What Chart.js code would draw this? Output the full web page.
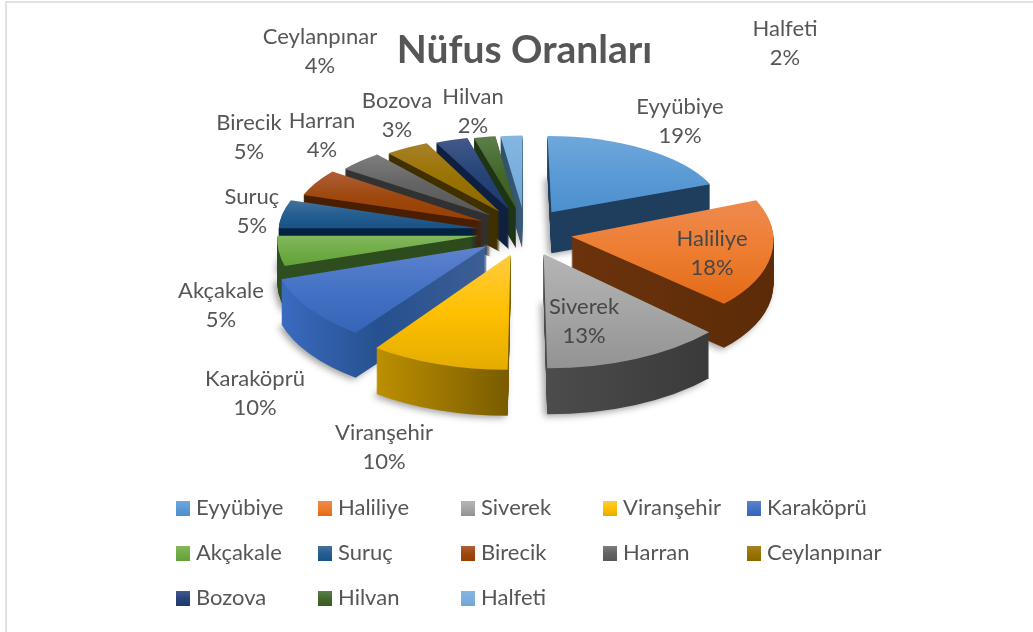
<!DOCTYPE html>
<html lang="tr">
<head>
<meta charset="utf-8">
<title>Nüfus Oranları</title>
<script src="https://cdn.jsdelivr.net/npm/chart.js@4"></script>
<style>
html,body{margin:0;padding:0;background:#fff}
#frame{position:absolute;left:5px;top:1px;right:0;bottom:0;border-left:2px solid #e2e2e2;border-top:2px solid #e2e2e2;pointer-events:none}
canvas{position:absolute;left:0;top:0}
</style>
</head>
<body>
<canvas id="c" width="1033" height="632"></canvas>
<div id="frame"></div>
<script>
// ---- data ----
const chartTitle = 'Nüfus Oranları';
const categories = ['Eyyübiye','Haliliye','Siverek','Viranşehir','Karaköprü','Akçakale','Suruç','Birecik','Harran','Ceylanpınar','Bozova','Hilvan','Halfeti'];
const percentages = [19,18,13,10,10,5,5,5,4,4,3,2,2];

// ---- styles ----
const topColors = [
 ['#6FA7DB','#5B9BD5','#4C8FCE'],['#EE8A4E','#ED7D31','#E36A16'],['#B5B5B5','#A5A5A5','#939393'],
 ['#FFCB40','#FFC000','#E3AC00'],['#5F83CE','#4472C4','#3565B8'],['#84B75E','#70AD47','#62A038'],
 ['#44739F','#255E91','#1A5286'],['#AE6038','#9E480E','#973F04'],['#7E7E7E','#636363','#585858'],
 ['#A88028','#997300','#8B6700'],['#43598A','#264478','#1C3A6E'],['#5D7E4C','#43682B','#3A5C23'],
 ['#84B6E2','#7CAFDD','#6FA5D6']];
const sideColors = [
 ['#1F3E5E','#1F3E5E'],['#6B330C','#5C2B08'],['#4C4C4C','#3A3A3A'],
 ['#BD9000','#7A5C00'],['#3A6BC0','#26508F','#3D5F95'],['#2F4F20','#2C4A1C'],
 ['#03223F','#03223F'],['#4A1E00','#4A1E00'],['#333333','#303030'],
 ['#403000','#403000'],['#0F1F3F','#0F1F3F'],['#1F3315','#1F3315'],['#2F4F6F','#3A5A78']];
const textColor = '#565656';
const fontFamily = 'Lato, "Open Sans", sans-serif';
const labelFont = '400 22px ' + fontFamily;
const labelCenters = [[680,107],[712,239],[584,307],[384,433],[255,379],[221,291],[252,197],[249,123],[322,121],[320,37],[397,101],[473,97],[785,29]];
const labelLineGap = 29;
const legendCols = [176,318,461,603,747];
const legendRows = [508,553,598];

// ---- 3D look ----
const pivot = {x:525, y:232};
const explode = 47, squash = 0.509, baseRadius = 226;

function linGrad(ctx,x0,y0,x1,y1,stops){
  const g = ctx.createLinearGradient(x0,y0,x1,y1);
  stops.forEach((s,i)=>g.addColorStop(stops.length>1?i/(stops.length-1):0,s));
  return g;
}
function bbox(arc){
  const R = arc.outerRadius; let x0=arc.x,x1=arc.x,y0=arc.y,y1=arc.y;
  for(let i=0;i<=24;i++){
    const a = arc.startAngle+(arc.endAngle-arc.startAngle)*i/24;
    const px=arc.x+R*Math.cos(a), py=arc.y+R*Math.sin(a);
    x0=Math.min(x0,px);x1=Math.max(x1,px);y0=Math.min(y0,py);y1=Math.max(y1,py);
  }
  return {x0,x1,y0,y1};
}
function paint(arc,ctx,fill){
  const p = Object.create(arc);
  p.options = {backgroundColor:fill,borderColor:'rgba(0,0,0,0)',borderWidth:0,borderRadius:0,offset:0,spacing:0,circular:true,borderAlign:'center',borderJoinStyle:'round'};
  p.draw(ctx);
}
const pie3d = {
  id:'pie3d',
  beforeDatasetsDraw(chart){
    const ctx = chart.ctx;
    const arcs = chart.getDatasetMeta(0).data;
    const order = arcs.map((a,i)=>i).sort((a,b)=>{
      const ma=(arcs[a].startAngle+arcs[a].endAngle)/2, mb=(arcs[b].startAngle+arcs[b].endAngle)/2;
      return Math.sin(ma)-Math.sin(mb);
    });
    order.forEach(i=>{
      const arc = arcs[i];
      const mid = (arc.startAngle+arc.endAngle)/2;
      const c = -Math.sin(mid), s = Math.cos(mid);
      const sx = 0.87-0.13*c+((s<0&&c>0)?0.035:0), sy = (0.82-0.19*c)*squash;
      const ox = pivot.x+explode*s, oy = pivot.y-explode*c*squash;
      const depth = Math.round(43-3*c);
      const shear = 0.04*s;
      const b = bbox(arc);
      const place = dy=>{
        ctx.translate(ox,oy+dy); ctx.scale(sx,sy); ctx.transform(1,0,shear,1,0,0); ctx.translate(-arc.x,-arc.y);
      };
      const sideFill = linGrad(ctx,b.x0,0,b.x1,0,sideColors[i]);
      for(let d=depth;d>=1;d--){
        ctx.save();
        if(d===depth){
          ctx.shadowColor='rgba(0,0,0,0.38)';ctx.shadowBlur=7;ctx.shadowOffsetX=-3;ctx.shadowOffsetY=2;
        }
        place(d);
        paint(arc,ctx,sideFill);
        ctx.restore();
      }
      ctx.save();
      place(0);
      paint(arc,ctx,linGrad(ctx,0,b.y0,0,b.y1,topColors[i]));
      ctx.restore();
    });
    return false;
  },
  afterDraw(chart){
    const ctx = chart.ctx;
    ctx.save();
    ctx.fillStyle = textColor;
    ctx.font = labelFont;
    ctx.textAlign='center';ctx.textBaseline='middle';
    categories.forEach((name,i)=>{
      const [x,y]=labelCenters[i];
      ctx.fillStyle = (i===1||i===2)?'#474747':textColor;
      ctx.fillText(name,x,y);
      ctx.fillText(percentages[i]+'%',x,y+labelLineGap);
    });
    ctx.textAlign='left';
    categories.forEach((name,i)=>{
      const x=legendCols[i%5], y=legendRows[Math.floor(i/5)];
      ctx.fillStyle=linGrad(ctx,0,y-7,0,y+8,topColors[i]);
      ctx.fillRect(x,y-7,14,15);
      ctx.fillStyle=textColor;
      ctx.fillText(name,x+20,y);
    });
    ctx.restore();
  }
};
new Chart(document.getElementById('c'),{
  type:'pie',
  data:{labels:categories,datasets:[{data:percentages,backgroundColor:topColors.map(t=>t[1]),borderWidth:0,radius:baseRadius}]},
  options:{
    responsive:false,animation:false,events:[],
    layout:{padding:{left:16}},
    plugins:{
      legend:{display:false},tooltip:{enabled:false},
      title:{display:true,text:chartTitle,color:textColor,font:{family:fontFamily,size:39,weight:'bold'},padding:{top:27,bottom:10}}
    }
  },
  plugins:[pie3d]
});
</script>
</body>
</html>
